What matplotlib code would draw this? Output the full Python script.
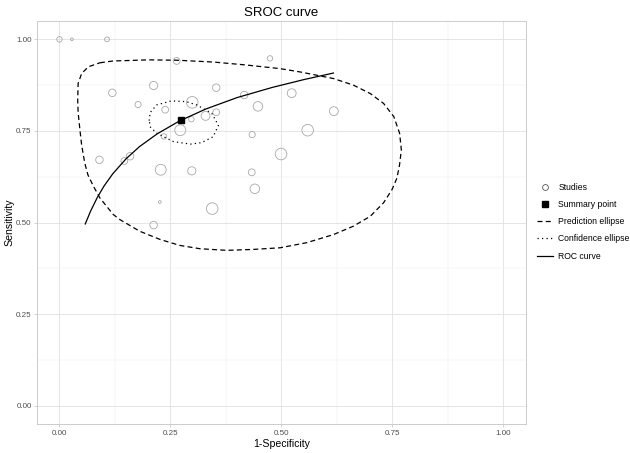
import numpy as np
import matplotlib.pyplot as plt
from matplotlib.lines import Line2D

plt.rcParams['font.family'] = ['Liberation Sans', 'DejaVu Sans']

# studies: 1-specificity, sensitivity, weight (marker area)
study_fpr = [0.000, 0.028, 0.107, 0.264, 0.474, 0.119, 0.212, 0.353, 0.416, 0.523,
             0.177, 0.299, 0.238, 0.353, 0.447, 0.618, 0.329, 0.297, 0.272, 0.559,
             0.235, 0.434, 0.090, 0.146, 0.159, 0.228, 0.298, 0.499, 0.433, 0.440,
             0.226, 0.344, 0.212]
study_sens = [1.000, 1.000, 1.000, 0.941, 0.948, 0.854, 0.874, 0.868, 0.848, 0.853,
              0.822, 0.828, 0.808, 0.801, 0.817, 0.804, 0.791, 0.782, 0.752, 0.752,
              0.735, 0.740, 0.671, 0.668, 0.681, 0.644, 0.641, 0.687, 0.637, 0.592,
              0.556, 0.538, 0.493]
study_w = [64, 16, 49, 100, 64, 121, 144, 121, 121, 169,
           81, 289, 100, 100, 196, 169, 169, 64, 256, 289,
           64, 81, 121, 100, 121, 256, 144, 289, 100, 196,
           16, 289, 121]

summary_fpr = 0.274
summary_sens = 0.779

roc_fpr = [0.058, 0.070, 0.085, 0.100, 0.120, 0.150, 0.180, 0.220, 0.270,
           0.330, 0.400, 0.480, 0.550, 0.617]
roc_sens = [0.496, 0.531, 0.568, 0.599, 0.633, 0.674, 0.707, 0.742, 0.777,
            0.810, 0.841, 0.869, 0.890, 0.908]

pred_fpr = [0.091, 0.121, 0.151, 0.200, 0.264, 0.347, 0.420, 0.497, 0.542, 0.617,
            0.662, 0.700, 0.730, 0.753, 0.766, 0.770, 0.766, 0.760, 0.749, 0.730,
            0.700, 0.662, 0.617, 0.557, 0.497, 0.437, 0.377, 0.316, 0.271, 0.226,
            0.181, 0.136, 0.121, 0.091, 0.076, 0.064, 0.057, 0.050, 0.046, 0.042,
            0.041, 0.042, 0.050, 0.065, 0.091]
pred_sens = [0.936, 0.941, 0.942, 0.944, 0.943, 0.938, 0.930, 0.920, 0.911, 0.893,
             0.875, 0.852, 0.825, 0.789, 0.744, 0.698, 0.658, 0.621, 0.590, 0.554,
             0.517, 0.490, 0.467, 0.445, 0.431, 0.4266, 0.424, 0.4285, 0.4375, 0.454,
             0.476, 0.508, 0.522, 0.567, 0.600, 0.630, 0.662, 0.710, 0.753, 0.800,
             0.834, 0.880, 0.907, 0.925, 0.936]

conf_fpr = [0.202, 0.204, 0.219, 0.252, 0.285, 0.309, 0.343, 0.358, 0.346, 0.320,
            0.295, 0.256, 0.219, 0.205, 0.202]
conf_sens = [0.778, 0.800, 0.821, 0.832, 0.830, 0.821, 0.798, 0.765, 0.734, 0.718,
             0.714, 0.721, 0.744, 0.760, 0.778]

fig = plt.figure(figsize=(6.3, 4.53), dpi=100)
ax = fig.add_axes([0.0592, 0.064, 0.7752, 0.8896])

ticks = [0, 0.25, 0.5, 0.75, 1.0]
minor = [0.125, 0.375, 0.625, 0.875]
ax.set_xlim(-0.05, 1.05)
ax.set_ylim(-0.05, 1.05)
ax.set_xticks(ticks)
ax.set_yticks(ticks)
ax.set_xticks(minor, minor=True)
ax.set_yticks(minor, minor=True)
ax.set_xticklabels(['0.00', '0.25', '0.50', '0.75', '1.00'])
ax.set_yticklabels(['0.00', '0.25', '0.50', '0.75', '1.00'])
ax.grid(which='major', color='#e0e0e0', lw=0.6)
ax.grid(which='minor', color='#eeeeee', lw=0.35)
ax.set_axisbelow(True)
for s in ax.spines.values():
    s.set_color('#c4c4c4')
    s.set_linewidth(0.6)
ax.tick_params(which='major', length=2, width=0.5, color='#c4c4c4',
               labelsize=5.8, labelcolor='#4d4d4d', pad=2)
ax.tick_params(which='minor', length=0)

ax.scatter(study_fpr, study_sens, s=np.array(study_w) * 0.24,
           facecolors='none', edgecolors='#a8a8a8', linewidths=0.6, zorder=2)
ax.plot(pred_fpr, pred_sens, color='black', lw=0.9, ls=(0, (4, 2.6)), zorder=3)
ax.plot(conf_fpr, conf_sens, color='black', lw=0.9, ls=(0, (1, 2.6)), zorder=3)
ax.plot(roc_fpr, roc_sens, color='black', lw=0.9, zorder=3)
ax.plot([summary_fpr], [summary_sens], marker='s', color='black', ms=3.8,
        ls='none', zorder=4)

ax.set_xlabel('1-Specificity', fontsize=7.6, labelpad=2)
ax.set_ylabel('Sensitivity', fontsize=7.6, labelpad=1.5)
ax.set_title('SROC curve', fontsize=9.5, pad=3.5)

handles = [
    Line2D([], [], marker='o', ls='none', mfc='none', mec='#555555', ms=4.2, mew=0.6),
    Line2D([], [], marker='s', ls='none', color='black', ms=3.8),
    Line2D([], [], color='black', lw=0.9, ls=(0, (4, 2.6))),
    Line2D([], [], color='black', lw=0.9, ls=(0, (1, 2.6))),
    Line2D([], [], color='black', lw=0.9),
]
labels = ['Studies', 'Summary point', 'Prediction ellipse', 'Confidence ellipse', 'ROC curve']
fig.legend(handles, labels, loc='center left', bbox_to_anchor=(0.852, 0.5106),
           frameon=False, fontsize=6.2, handlelength=1.9, handletextpad=0.6,
           labelspacing=0.95, borderpad=0, borderaxespad=0)

fig.savefig('out.png', dpi=100)
